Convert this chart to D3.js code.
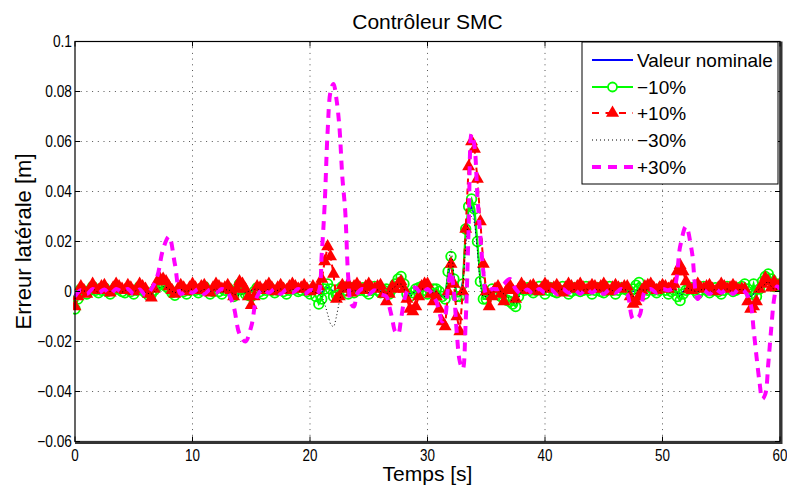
<!DOCTYPE html>
<html>
<head>
<meta charset="utf-8">
<script src="https://cdn.jsdelivr.net/npm/d3@7"></script>
<style>
  body { margin: 0; background: #fff; }
  text { font-family: "Liberation Sans", Arial, sans-serif; fill: #000; }
</style>
</head>
<body>
<div id="chart"></div>
<script>
// time grid [s] for the unmarked curves (finer where they move fast)
const timesCoarse = [
  0,0.5,1,1.5,2,2.5,3,3.5,4,4.5,5,5.5,6,6.5,7,7.5,8,8.5,9,9.5,10,10.5,11,11.5,12,12.5,13,13.5,14,14.5,15,15.5,16,16.5,17,17.5,18,18.5,19,19.5,20,
  20.25,20.5,20.75,21,21.25,21.5,21.75,22,22.25,22.5,22.75,23,23.25,23.5,23.75,24,
  24.5,25,25.5,26,26.5,
  26.75,27,27.25,27.5,27.75,28,28.25,28.5,
  29,29.5,30,30.5,
  30.75,31,31.25,31.5,31.75,32,32.25,32.5,32.75,33,33.25,33.5,33.75,34,34.25,34.5,34.75,35,35.25,35.5,
  36,36.5,37,37.5,38,38.5,39,39.5,40,40.5,41,41.5,42,42.5,43,43.5,44,44.5,45,45.5,46,46.5,47,47.5,48,48.5,49,49.5,50,50.5,51,51.5,52,52.5,53,53.5,54,54.5,55,55.5,56,56.5,57,57.5,
  57.75,58,58.25,58.5,58.75,59,59.25,59.5,59.75,60
];

// time grid [s] for the marked curves (one row = 2 s)
const timesFine = [
  0,0.25,0.5,0.75,1,1.25,1.5,1.75,
  2,2.25,2.5,2.75,3,3.25,3.5,3.75,
  4,4.25,4.5,4.75,5,5.25,5.5,5.75,
  6,6.25,6.5,6.75,7,7.25,7.5,7.75,
  8,8.25,8.5,8.75,9,9.25,9.5,9.75,
  10,10.25,10.5,10.75,11,11.25,11.5,11.75,
  12,12.25,12.5,12.75,13,13.25,13.5,13.75,
  14,14.25,14.5,14.75,15,15.25,15.5,15.75,
  16,16.25,16.5,16.75,17,17.25,17.5,17.75,
  18,18.25,18.5,18.75,19,19.25,19.5,19.75,
  20,20.25,20.5,20.75,21,21.25,21.5,21.75,
  22,22.25,22.5,22.75,23,23.25,23.5,23.75,
  24,24.25,24.5,24.75,25,25.25,25.5,25.75,
  26,26.25,26.5,26.75,27,27.25,27.5,27.75,
  28,28.25,28.5,28.75,29,29.25,29.5,29.75,
  30,30.25,30.5,30.75,31,31.25,31.5,31.75,
  32,32.25,32.5,32.75,33,33.25,33.5,33.75,
  34,34.25,34.5,34.75,35,35.25,35.5,35.75,
  36,36.25,36.5,36.75,37,37.25,37.5,37.75,
  38,38.25,38.5,38.75,39,39.25,39.5,39.75,
  40,40.25,40.5,40.75,41,41.25,41.5,41.75,
  42,42.25,42.5,42.75,43,43.25,43.5,43.75,
  44,44.25,44.5,44.75,45,45.25,45.5,45.75,
  46,46.25,46.5,46.75,47,47.25,47.5,47.75,
  48,48.25,48.5,48.75,49,49.25,49.5,49.75,
  50,50.25,50.5,50.75,51,51.25,51.5,51.75,
  52,52.25,52.5,52.75,53,53.25,53.5,53.75,
  54,54.25,54.5,54.75,55,55.25,55.5,55.75,
  56,56.25,56.5,56.75,57,57.25,57.5,57.75,
  58,58.25,58.5,58.75,59,59.25,59.5,59.75,
  60
];

// Valeur nominale (on timesCoarse)
const nominal = [
  -0.004,0.001,0.0005,0.001,0,0.0008,0.0003,0.001,0,0.0006,
  0.0002,0.0009,0.0001,0.0003,0.001,0.0015,0.0006,0,0.0004,0.0008,
  0.0002,0.0006,0.0003,0.0009,0.0001,0.0007,0.0002,-0.0005,-0.001,-0.0003,
  0.0004,0.0008,0.0002,0.0006,0.0001,0.0007,0.0003,0.0009,0.0002,0.0005,
  0.0001,
  0.0005,0,-0.001,-0.0005,0.001,0.0015,0.001,0,-0.0005,0.0005,0.001,0.0005,0,0.0005,0.001,0.0005,
  0.0003,0.0008,0.0002,0.0007,0.0001,
  0,0.0005,0.001,0.0015,0.002,0.001,-0.0005,-0.001,
  0,0.0005,0.001,0.0003,
  0,-0.001,-0.002,-0.001,0.006,0.012,0.005,-0.001,-0.001,0.004,0.022,0.032,0.034,0.030,0.018,0.004,-0.002,-0.002,-0.001,0,
  0.0005,-0.001,-0.002,-0.003,0,0.0008,0.0002,0.0007,0.0001,0.0006,
  0.0002,0.0008,0,0.0006,0.0003,0.0008,0.0001,0.0007,0.0002,0.0006,
  0.0001,0.0007,0.0002,0,0.001,0.0004,0.0008,0.0002,0.0007,0.0001,
  0.0005,-0.001,0.001,0.0006,0.0002,0.0008,0.0001,0.0006,0.0003,0.0007,
  0.0001,0.0006,0.0005,-0.002,
  -0.001,0,0.001,0.002,0.003,0.004,0.003,0.002,0.001,0.0005
];

// -10% (on timesFine)
const minus10 = [
  -0.007,-0.003,0.001,0,-0.001,0.0005,0.002,0.0005,
  -0.0005,0.0005,0.0015,0,-0.001,0.0005,0.002,0.001,
  0,-0.0005,0.001,0,-0.001,0.0005,0.002,0.0005,
  -0.0005,-0.0015,-0.001,0.0005,0.002,0.003,0.003,0.002,
  0.001,-0.0005,-0.0015,0,0.001,0,-0.001,0.0005,
  0.0015,0.0005,-0.0005,0.0005,0.002,0.0005,-0.001,0,
  0.001,0,-0.001,0.0005,0.0015,0,-0.002,0.0005,
  0.003,0.001,-0.001,-0.0015,-0.002,0,0.0015,0,
  -0.001,0.0005,0.002,0.0005,-0.0005,0.0005,0.0015,0,
  -0.001,0.0005,0.002,0.001,0,0.0005,0.0015,0,
  -0.001,0.001,-0.002,-0.005,-0.003,0.001,0.003,0.001,
  -0.002,-0.0015,0.001,0.002,0.0005,-0.001,0.0015,-0.0005,
  0.001,0.0005,0.0015,0,-0.001,0.0005,0.002,0.0005,
  -0.0005,0.0005,0.001,-0.001,0.001,0.003,0.005,0.006,
  0.003,-0.001,-0.002,-0.0005,0.001,0.0015,0.002,0.0005,
  -0.001,0,0.001,0.001,0,-0.002,-0.003,0.008,
  0.014,0.005,-0.002,-0.002,0.003,0.025,0.034,0.037,
  0.033,0.020,0.004,-0.003,-0.003,-0.001,0.001,0,
  -0.001,-0.002,-0.003,-0.0035,-0.004,-0.005,-0.006,-0.002,
  0.001,0.0005,0.0015,0.0005,-0.0005,0.0005,0.002,0.0005,
  -0.001,0.0005,0.0015,0,-0.0005,0.0005,0.002,0.0005,
  -0.001,0,0.0015,0.0005,0,0.0005,0.002,0.0005,
  -0.001,0.0005,0.0015,0,-0.0005,0.0005,0.002,0.0005,
  -0.001,0.0005,0.0015,0.001,0.0005,0,0.001,0.0025,
  0.0036,0.001,-0.001,0.0005,0.0015,0.0005,-0.0005,0.0005,
  0.002,0.0005,-0.001,0,0.0005,-0.002,-0.0036,-0.001,
  0.0005,0.001,0.0015,0.0005,-0.001,0.0005,0.002,0.0005,
  -0.0005,0.0005,0.0015,0,-0.001,0.0005,0.002,0.001,
  0,0.0005,0.0015,0.002,0.003,0.001,-0.001,0.003,
  -0.002,0.001,0.004,0.006,0.007,0.005,0.002,0.003,
  0.002
];

// +10% (on timesFine)
const plus10 = [
  -0.006,-0.002,0.002,0.0005,-0.001,0.001,0.003,0.001,
  0.0005,0.002,0.0025,0.0005,-0.0005,0.0015,0.003,0.002,
  0.001,0.0005,0.0025,0.0015,0,0.001,0.003,0.002,
  0.001,-0.001,-0.0025,0.001,0.004,0.005,0.005,0.004,
  0.002,0.0005,-0.001,0.001,0.0025,0.0015,0,0.0015,
  0.003,0.0015,0.0005,0.002,0.0025,0.001,-0.0005,0.0015,
  0.003,0.002,0.001,0.0015,0.0025,0.0005,-0.002,0.001,
  0.004,0.003,0.001,-0.002,-0.0055,-0.002,0.002,0.0015,
  0.0005,0.002,0.003,0.0015,0,0.0015,0.0025,0.001,
  0.0005,0.002,0.003,0.002,0.001,0.0015,0.0025,0.001,
  0,0.002,0.0005,0.002,0.005,0.012,0.018,0.014,
  0.007,-0.003,-0.002,0.0025,0.001,0.003,-0.0005,0.002,
  0.003,0.0015,0.0005,0.002,0.003,0.0015,0.001,0.002,
  0.0025,-0.001,-0.004,-0.001,0.002,0.001,0.003,0.004,
  0.001,-0.003,-0.007,-0.008,-0.006,-0.002,0.002,0.003,
  0.003,-0.001,-0.004,-0.002,-0.007,-0.012,-0.014,0,
  0.011,0.003,-0.010,-0.016,0,0.025,0.050,0.060,
  0.057,0.045,0.028,0.011,0,-0.006,-0.002,0.001,
  0.002,-0.001,-0.004,0.0005,0.0025,0.0005,-0.003,0.001,
  0.003,0.0015,0.0005,0.002,0.0025,0.001,0,0.0015,
  0.003,0.002,0.001,0.0015,0.0025,0.001,-0.0005,0.0015,
  0.003,0.002,0.001,0.002,0.003,0.0015,0.0005,0.0015,
  0.0025,0.002,0.001,0.002,0.003,0.0015,0,0.0015,
  0.0025,0.0015,0.001,0.002,0.002,-0.002,-0.005,-0.004,
  -0.002,0.0005,0.002,0.0025,0.003,0.0015,0.0005,0.0015,
  0.0025,0.002,0.001,0.002,0.003,0.008,0.0105,0.008,
  0.004,0.001,0.0005,0.002,0.003,0.0015,0.001,0.002,
  0.0025,0.001,0,0.0015,0.003,0.002,0.001,0.0015,
  0.0025,0.0015,0.0005,0.001,0.001,-0.004,-0.007,-0.006,
  -0.004,0.001,0.003,0.0055,0.004,0.0015,0.004,0.002,
  0.003
];

// -30% (on timesCoarse)
const minus30 = [
  -0.003,0.0005,0,0.001,-0.0003,0.0008,0,0.001,-0.0002,0.0008,
  0,0.001,-0.0003,-0.001,0.001,0.002,0.001,-0.0005,0.0008,0,
  0.001,-0.0002,0.0008,0,0.001,-0.0003,0.0008,-0.001,-0.0015,-0.0005,
  0.0005,0.001,-0.0002,0.0008,0,0.001,-0.0003,0.0008,0,0.001,
  -0.0002,
  0,-0.0005,-0.001,-0.002,-0.005,-0.009,-0.013,-0.014,-0.010,-0.004,0,0.0005,0.001,0,0.0005,0,
  0.0005,-0.0005,0.001,0,-0.001,
  0,0.001,0.002,0.003,0.003,0.001,-0.001,-0.002,
  0.0005,0.001,0.0005,-0.0005,
  0,-0.001,-0.002,-0.002,0.008,0.017,0.006,-0.004,-0.002,0.002,0.018,0.028,0.030,0.027,0.016,0.003,-0.002,-0.002,-0.001,0,
  0.0005,-0.001,-0.003,-0.005,0,0.001,0,0.0008,-0.0002,0.0008,
  0,0.001,-0.0003,0.0008,0,0.001,-0.0002,0.0008,0,0.001,
  -0.0003,0.0008,0.0005,-0.002,0.001,0.0005,0.001,0,0.0008,-0.0002,
  0.001,-0.002,0.0015,0.0005,0,0.001,-0.0002,0.0008,0,0.001,
  -0.0002,0.0008,0.0005,-0.002,
  -0.001,0,0.001,0.002,0.003,0.004,0.002,0.001,0.001,0
];

// +30% (on timesCoarse)
const plus30 = [
  -0.002,0.0005,-0.001,0.001,-0.0005,0.0008,-0.001,0.001,0,0.001,
  -0.001,0.0008,-0.0015,0.001,0.006,0.017,0.022,0.011,-0.001,0.0005,
  -0.0005,0.001,-0.001,0.0008,-0.0005,0.001,-0.0005,-0.006,-0.017,-0.020,
  -0.014,-0.002,0.001,-0.0005,0.001,-0.001,0.0008,-0.0005,0.001,-0.001,
  0.0005,
  0.0005,-0.001,0,0.015,0.035,0.064,0.080,0.083,0.077,0.066,0.046,0.032,0.006,-0.005,-0.006,-0.001,
  0.001,-0.001,0.0005,-0.001,-0.002,
  -0.006,-0.011,-0.016,-0.017,-0.011,-0.004,0,0.001,
  0.0015,-0.001,0.001,-0.002,
  -0.004,-0.008,-0.012,-0.010,0.002,0.008,0,-0.017,-0.028,-0.031,-0.012,0.025,0.063,0.058,0.038,0.022,0.008,-0.001,0,0.001,
  0.001,0.003,0.005,0.001,-0.001,0.0008,-0.001,0.001,-0.0005,0.0008,
  -0.001,0.001,-0.0005,0.0008,-0.001,0.001,-0.0005,0.001,-0.001,0.0008,
  -0.0005,0.001,-0.001,-0.011,-0.010,0,0.001,-0.0005,0.001,0.0005,
  0.002,0.018,0.026,0.016,-0.003,0.0005,-0.001,0.001,-0.0005,0.0008,
  -0.001,0.001,0,-0.005,
  -0.015,-0.026,-0.036,-0.043,-0.041,-0.029,-0.015,-0.003,0.002,0.001
];

const seriesNames = ["Valeur nominale", "\u221210%", "+10%", "\u221230%", "+30%"];
const xTicks = [0, 10, 20, 30, 40, 50, 60];
const yTicks = [-0.06, -0.04, -0.02, 0, 0.02, 0.04, 0.06, 0.08, 0.1];
const yTickLabels = ["\u22120.06", "\u22120.04", "\u22120.02", "0", "0.02", "0.04", "0.06", "0.08", "0.1"];

[nominal, minus30, plus30].forEach((s, i) => {
  if (s.length !== timesCoarse.length) throw new Error("coarse series " + i + ": " + s.length + " vs " + timesCoarse.length);
});
[minus10, plus10].forEach((s, i) => {
  if (s.length !== timesFine.length) throw new Error("fine series " + i + ": " + s.length + " vs " + timesFine.length);
});

const W = 787, H = 491;
const margin = {top: 41.5, right: 7, bottom: 49.5, left: 75};
const width = W - margin.left - margin.right,
      height = H - margin.top - margin.bottom;

const svg = d3.select("#chart").append("svg")
    .attr("width", W)
    .attr("height", H);

const g = svg.append("g")
    .attr("transform", `translate(${margin.left}, ${margin.top})`);

const x = d3.scaleLinear().domain([0, 60]).range([0, width]);
const y = d3.scaleLinear().domain([-0.06, 0.1]).range([height, 0]);

// dotted grid
g.append("g").selectAll("line")
  .data(xTicks.slice(1, -1))
  .enter().append("line")
    .attr("x1", d => x(d)).attr("x2", d => x(d))
    .attr("y1", 0).attr("y2", height)
    .attr("stroke", "#555").attr("stroke-width", 1)
    .attr("stroke-dasharray", "1,4.7");
g.append("g").selectAll("line")
  .data(yTicks.slice(1, -1))
  .enter().append("line")
    .attr("x1", 0).attr("x2", width)
    .attr("y1", d => y(d)).attr("y2", d => y(d))
    .attr("stroke", "#555").attr("stroke-width", 1)
    .attr("stroke-dasharray", "1,4.7");

const coarse = timesCoarse.map((t, i) => ({t: t, v0: nominal[i], v3: minus30[i], v4: plus30[i]}));
const fine = timesFine.map((t, i) => ({t: t, v1: minus10[i], v2: plus10[i]}));

svg.append("clipPath").attr("id", "clip")
  .append("rect").attr("x", -2).attr("y", 0).attr("width", width + 2).attr("height", height);

const plot = g.append("g").attr("clip-path", "url(#clip)");

const styles = [
  {key: "v0", rows: coarse, color: "#0000ff", w: 1.6, dash: null, curve: d3.curveLinear},
  {key: "v1", rows: fine, color: "#00ff00", w: 2, dash: null, curve: d3.curveLinear},
  {key: "v2", rows: fine, color: "#ff0000", w: 2, dash: "6,4", curve: d3.curveLinear},
  {key: "v3", rows: coarse, color: "#000000", w: 1, dash: "1,2.5", curve: d3.curveMonotoneX},
  {key: "v4", rows: coarse, color: "#ff00ff", w: 4, dash: "9,7", curve: d3.curveCatmullRom.alpha(0.5)}
];

const drawLine = function(s) {
  plot.append("path")
    .datum(s.rows)
    .attr("fill", "none")
    .attr("stroke", s.color)
    .attr("stroke-width", s.w)
    .attr("stroke-dasharray", s.dash)
    .attr("d", d3.line().curve(s.curve).x(d => x(d.t)).y(d => y(d[s.key])));
};

drawLine(styles[0]);
drawLine(styles[1]);
plot.selectAll(".circ")
  .data(fine)
  .enter().append("circle")
    .attr("class", "circ")
    .attr("cx", d => x(d.t)).attr("cy", d => y(d.v1))
    .attr("r", 4.8)
    .attr("fill", "none").attr("stroke", "#00ff00").attr("stroke-width", 1.8);
drawLine(styles[2]);
const tri = d3.symbol().type(d3.symbolTriangle).size(72);
plot.selectAll(".tri")
  .data(fine)
  .enter().append("path")
    .attr("class", "tri")
    .attr("transform", d => `translate(${x(d.t)}, ${y(d.v2)})`)
    .attr("d", tri)
    .attr("fill", "#ff0000");
drawLine(styles[3]);
drawLine(styles[4]);

// frame
g.append("rect")
  .attr("x", 0).attr("y", 0).attr("width", width).attr("height", height)
  .attr("fill", "none").attr("stroke", "#000").attr("stroke-width", 1.2);
g.append("line").attr("x1", 0).attr("x2", width + 1.5).attr("y1", height + 1).attr("y2", height + 1)
  .attr("stroke", "#333").attr("stroke-width", 3);
g.append("line").attr("x1", width + 1).attr("x2", width + 1).attr("y1", 0).attr("y2", height + 2.5)
  .attr("stroke", "#333").attr("stroke-width", 3);

// ticks (inward) on all four sides
const tl = 5;
xTicks.forEach(t => {
  g.append("line").attr("x1", x(t)).attr("x2", x(t)).attr("y1", height).attr("y2", height - tl).attr("stroke", "#000");
  g.append("line").attr("x1", x(t)).attr("x2", x(t)).attr("y1", 0).attr("y2", tl).attr("stroke", "#000");
});
yTicks.forEach(t => {
  g.append("line").attr("x1", 0).attr("x2", tl).attr("y1", y(t)).attr("y2", y(t)).attr("stroke", "#000");
  g.append("line").attr("x1", width).attr("x2", width - tl).attr("y1", y(t)).attr("y2", y(t)).attr("stroke", "#000");
});

// tick labels (slightly condensed, as in the reference)
g.append("g").selectAll("text")
  .data(xTicks)
  .enter().append("text")
    .attr("transform", d => `translate(${x(d)}, ${height + 19}) scale(0.84, 1)`)
    .attr("text-anchor", "middle")
    .attr("font-size", 16)
    .text(d => d);
g.append("g").selectAll("text")
  .data(yTicks)
  .enter().append("text")
    .attr("transform", d => `translate(-3, ${y(d) + 5.5}) scale(0.86, 1)`)
    .attr("text-anchor", "end")
    .attr("font-size", 16)
    .text((d, i) => yTickLabels[i]);

// titles
svg.append("text")
  .attr("x", margin.left + width / 2)
  .attr("y", 29)
  .attr("text-anchor", "middle")
  .attr("font-size", 21)
  .text("Contr\u00f4leur SMC");
svg.append("text")
  .attr("x", margin.left + width / 2)
  .attr("y", 481)
  .attr("text-anchor", "middle")
  .attr("font-size", 21)
  .text("Temps [s]");
svg.append("text")
  .attr("transform", `translate(31, ${margin.top + height / 2}) rotate(-90)`)
  .attr("text-anchor", "middle")
  .attr("font-size", 22)
  .text("Erreur lat\u00e9rale [m]");

// legend
const lg = svg.append("g").attr("transform", "translate(582, 42)");
lg.append("rect")
  .attr("width", 196).attr("height", 142)
  .attr("fill", "#fff").attr("stroke", "#000").attr("stroke-width", 1);
const rowY = [18, 45, 71, 98, 125];
styles.forEach((s, i) => {
  lg.append("line")
    .attr("x1", 10).attr("x2", 51)
    .attr("y1", rowY[i]).attr("y2", rowY[i])
    .attr("stroke", s.color)
    .attr("stroke-width", i === 3 ? 1 : (i === 4 ? 4 : 2))
    .attr("stroke-dasharray", i === 2 ? "7,6.5" : (i === 3 ? "1,3" : (i === 4 ? "9,7" : null)));
  lg.append("text")
    .attr("x", 55).attr("y", rowY[i] + 7)
    .attr("font-size", 19)
    .text(seriesNames[i]);
});
lg.append("circle").attr("cx", 30.5).attr("cy", rowY[1]).attr("r", 4.5)
  .attr("fill", "#fff").attr("stroke", "#00ff00").attr("stroke-width", 1.8);
lg.append("path").attr("transform", `translate(30.5, ${rowY[2]})`)
  .attr("d", d3.symbol().type(d3.symbolTriangle).size(75))
  .attr("fill", "#ff0000");
</script>
</body>
</html>
